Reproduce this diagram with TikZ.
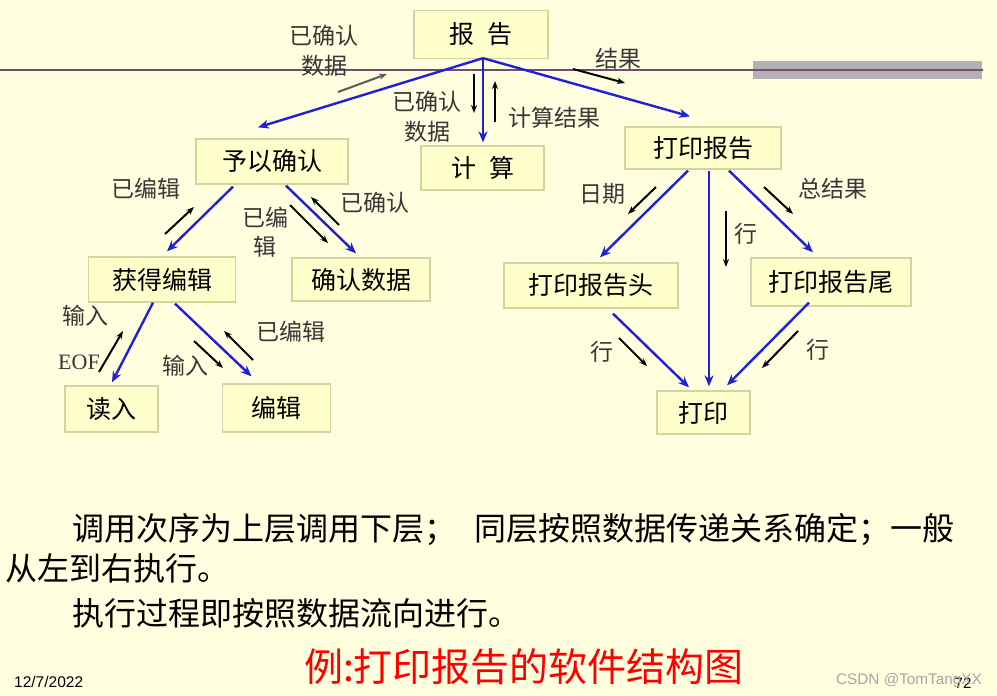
\documentclass[tikz,border=0pt]{standalone}
\usepackage{fontspec}
\setmainfont{Liberation Sans}
\newfontfamily\cjk{Noto Sans CJK SC}
\usetikzlibrary{arrows.meta,calc}
\definecolor{bgcol}{RGB}{255,255,224}
\definecolor{boxfill}{RGB}{255,255,204}
\definecolor{boxline}{RGB}{212,212,160}
\definecolor{callblue}{RGB}{32,32,215}
\definecolor{rulecol}{RGB}{112,78,112}
\definecolor{barcol}{RGB}{178,178,178}
\definecolor{labcol}{RGB}{55,55,55}
\tikzset{
  modbox/.style={draw=boxline, line width=1.3pt, fill=boxfill, inner sep=0pt,
    font=\cjk\fontsize{25}{30}\selectfont, text=black},
  call/.style={draw=callblue, line width=2.4pt, -{Stealth[length=11pt,width=9pt]}},
  flow/.style={draw=black, line width=2pt, -{Stealth[length=8pt,width=6pt]}},
  lab/.style={font=\cjk\fontsize{23}{29.5}\selectfont, text=labcol, inner sep=0pt, align=center},
  body/.style={font=\cjk\fontsize{32}{38}\selectfont, text=black, inner sep=0pt, anchor=west},
}
\begin{document}
\begin{tikzpicture}[x=1pt,y=-1pt]
\fill[bgcol] (0,0) rectangle (997,696);
\useasboundingbox (0,0) rectangle (997,696);

% header rule and bar
\fill[barcol] (753,61) rectangle (982,79);
\coordinate (ruleL) at (0,70);
\coordinate (ruleR) at (983,70);
\draw[rulecol, line width=2.3pt] (ruleL) -- (ruleR);

% modules
\node[modbox, minimum width=134pt, minimum height=48pt] (report) at (481,34.5) {报\hspace{13pt}告};
\node[modbox, minimum width=152pt, minimum height=45pt] (confirm) at (272,161.5) {予以确认};
\node[modbox, minimum width=123pt, minimum height=44pt] (calc) at (482.5,168) {计\hspace{13pt}算};
\node[modbox, minimum width=156pt, minimum height=42pt] (printrep) at (703,148) {打印报告};
\node[modbox, minimum width=147pt, minimum height=45pt] (getedit) at (162,279.5) {获得编辑};
\node[modbox, minimum width=138pt, minimum height=43pt] (confdata) at (361,279.5) {确认数据};
\node[modbox, minimum width=174pt, minimum height=45pt] (head) at (591,285.5) {打印报告头};
\node[modbox, minimum width=160pt, minimum height=48pt] (tail) at (831,282) {打印报告尾};
\node[modbox, minimum width=93pt, minimum height=46pt] (readin) at (111.5,409) {读入};
\node[modbox, minimum width=108pt, minimum height=48pt] (edit) at (276.5,408) {编辑};
\node[modbox, minimum width=93pt, minimum height=43pt] (print) at (703.5,412.5) {打印};

% call arrows
\draw[call] ($(report.south)+(2,-1)$) -- ($(confirm.north)+(-14,-11)$);
\draw[call] ($(report.south)+(2,-1)$) -- ($(calc.north)+(0.5,-3)$);
\draw[call] ($(report.south)+(2,-1)$) -- ($(printrep.north)+(-13,-10)$);
\draw[call] ($(confirm.south)+(-39,2)$) -- ($(getedit.north)+(5,-5)$);
\draw[call] ($(confirm.south)+(14,1)$) -- ($(confdata.north)+(-5,-4)$);
\draw[call] ($(getedit.south)+(-9,0)$) -- ($(readin.north)+(0.5,-3)$);
\draw[call] ($(getedit.south)+(13,1)$) -- ($(edit.north)+(-25,-7)$);
\draw[call] ($(printrep.south)+(-15,1)$) -- ($(head.north)+(9,-5)$);
\draw[call] ($(printrep.south)+(6,1)$) -- ($(print.north)+(5.5,-4)$);
\draw[call] ($(printrep.south)+(26,1)$) -- ($(tail.north)+(-18,-5)$);
\draw[call] ($(head.south)+(22,5)$) -- ($(print.north)+(-14.5,-3)$);
\draw[call] ($(tail.south)+(-22,-4)$) -- ($(print.north)+(23.5,-5)$);

% data flow arrows
\coordinate (f1s) at (338,92);  \coordinate (f1e) at (387,74);
\coordinate (f2s) at (474,74);  \coordinate (f2e) at (474,113);
\coordinate (f3s) at (495,122); \coordinate (f3e) at (495,81);
\coordinate (f4s) at (573,69);  \coordinate (f4e) at (625,83);
\coordinate (f5s) at (165,234); \coordinate (f5e) at (194,207);
\coordinate (f6s) at (290,205); \coordinate (f6e) at (328,243);
\coordinate (f7s) at (339,225); \coordinate (f7e) at (311,197);
\coordinate (f8s) at (99,372);  \coordinate (f8e) at (123,331);
\coordinate (f9s) at (194,341); \coordinate (f9e) at (223,368);
\coordinate (f10s) at (253,360); \coordinate (f10e) at (224,331);
\coordinate (f11s) at (656,187); \coordinate (f11e) at (628,214);
\coordinate (f12s) at (726,211); \coordinate (f12e) at (726,267);
\coordinate (f13s) at (764,187); \coordinate (f13e) at (793,214);
\coordinate (f14s) at (619,338); \coordinate (f14e) at (647,366);
\coordinate (f15s) at (798,331); \coordinate (f15e) at (762,368);
\draw[flow, draw=black!65] (f1s) -- (f1e);
\foreach \i in {2,...,15} {\draw[flow] (f\i s) -- (f\i e);}

% labels
\node[lab] (l1) at (324,51) {已确认\\数据};
\node[lab] (l2) at (427,117) {已确认\\数据};
\node[lab] (l3) at (554,118) {计算结果};
\node[lab] (l4) at (618,59) {结果};
\node[lab] (l5) at (146,189) {已编辑};
\node[lab] (l6) at (265,232) {已编\\辑};
\node[lab] (l7) at (375,203) {已确认};
\node[lab] (l8) at (85,316) {输入};
\node[lab, font=\fontspec{Liberation Serif}\fontsize{22}{28}\selectfont] (l9) at (79,362) {EOF};
\node[lab] (l10) at (185,366) {输入};
\node[lab] (l11) at (291,332) {已编辑};
\node[lab] (l12) at (602,194) {日期};
\node[lab] (l13) at (746,234) {行};
\node[lab] (l14) at (833,189) {总结果};
\node[lab] (l15) at (602,352) {行};
\node[lab] (l16) at (818,350) {行};

% body text
\node[body] (t1) at (72,530) {调用次序为上层调用下层；\hspace{18pt}同层按照数据传递关系确定；一般};
\node[body] (t2) at (5,568) {从左到右执行。};
\node[body] (t3) at (72,613) {执行过程即按照数据流向进行。};
\node[font=\cjk\fontsize{39}{44}\selectfont, text=red, inner sep=0pt] (title) at (524,667) {例:打印报告的软件结构图};
\node[font=\fontsize{15.5}{18}\selectfont, inner sep=0pt, anchor=west] (date) at (14,682) {12/7/2022};
\node[font=\fontsize{15}{18}\selectfont, inner sep=0pt] (pg) at (963,683) {72};
\node[font=\fontsize{15.3}{18}\selectfont, text=black!35, inner sep=0pt, anchor=east] (wm) at (982,681) {CSDN @TomTangXX};
\end{tikzpicture}
\end{document}
